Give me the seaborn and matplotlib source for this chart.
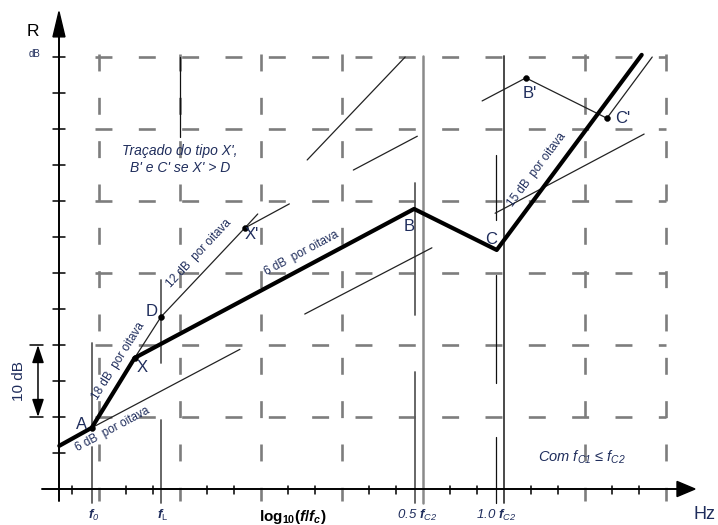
import numpy as np
import pandas as pd
import matplotlib
matplotlib.use("Agg")
import matplotlib.pyplot as plt
import seaborn as sns
from matplotlib.patches import Polygon

# ---------------------------------------------------------------------------
# Data: x = frequency in octaves (one grid column per octave), y = R in dB
# ---------------------------------------------------------------------------
octave_lines = [0, 1, 2, 3, 4, 5, 6, 7]
db_lines = [10, 20, 30, 40, 50, 60]
db_ticks = [5, 10, 15, 20, 25, 30, 35, 40, 45, 50, 55, 60]
third_octave_ticks = [-0.333, 0.333, 0.667, 1.333, 1.667, 2.333, 2.667, 3.333,
                      3.667, 4.333, 4.667, 5.333, 5.667, 6.333, 6.667]

# characteristic frequencies
f0 = -0.09
fL = 0.765
half_fc2 = 3.90
one_fc2 = 4.90

# design curve: axis start, A, X, B, C, end
curve_x = [-0.49, -0.09, 0.44, 3.89, 4.91, 6.70]
curve_y = [6.0, 8.5, 18.2, 38.9, 33.2, 60.3]

# marked construction points
point_x = [-0.09, 0.44, 0.765, 1.80, 5.27, 6.27]
point_y = [8.5, 18.2, 23.9, 36.25, 57.1, 51.5]

# point letters
label_names = ["A", "X", "D", "X'", "B", "C", "B'", "C'"]
label_x = [-0.22, 0.53, 0.654, 1.89, 3.83, 4.84, 5.32, 6.47]
label_y = [9.0, 16.9, 24.6, 35.3, 36.5, 34.7, 55.0, 51.4]

# thin construction lines (start / end)
guide_x0 = [-0.09, 0.44, 0.765, 1.80, 1.80, 2.57, 3.14, 2.54, 4.73, 5.27, 6.27, 4.89]
guide_y0 = [8.5, 18.2, 23.9, 36.25, 36.25, 45.7, 44.3, 24.3, 53.9, 57.1, 51.5, 38.3]
guide_x1 = [1.74, 0.765, 1.80, 1.96, 2.35, 3.78, 3.93, 4.11, 5.27, 6.27, 6.83, 6.73]
guide_y1 = [19.4, 23.9, 36.25, 38.2, 39.6, 60.0, 49.0, 33.5, 57.1, 51.5, 60.0, 49.3]

# short marker lines at the characteristic frequencies
mark_x = [f0, f0, fL, fL, half_fc2, half_fc2, one_fc2, one_fc2, one_fc2, 1.0]
mark_y0 = [8.2, -2.0, 17.5, -2.0, 24.2, -2.0, 37.4, 14.7, -2.0, 48.9]
mark_y1 = [20.3, 5.8, 29.0, 9.6, 42.5, 16.25, 46.4, 29.7, 7.2, 60.0]

# slope annotations
slope_text = ["6 dB  por oitava", "18 dB  por oitava", "12 dB  por oitava",
              "6 dB  por oitava", "15 dB  por oitava"]
slope_db = [6, 18, 12, 6, 15]
slope_x = [0.17, 0.235, 1.24, 2.50, 5.41]
slope_y = [8.3, 17.8, 32.7, 32.7, 44.3]

# frequency axis labels
freq_label_x = [f0 + 0.02, fL + 0.02, half_fc2 + 0.03, one_fc2 + 0.01]
freq_labels = [r"$\mathit{f}_{\mathsf{0}}$", r"$\mathit{f}_{\mathrm{L}}$",
               r"$\mathsf{0.5}\ \mathit{f}_{\mathsf{C2}}$",
               r"$\mathsf{1.0}\ \mathit{f}_{\mathsf{C2}}$"]

# ---------------------------------------------------------------------------
sns.set_theme(style="white")
plt.rcParams["font.family"] = ["Liberation Sans", "DejaVu Sans"]
plt.rcParams["mathtext.fontset"] = "custom"
plt.rcParams["mathtext.rm"] = "Liberation Sans"
plt.rcParams["mathtext.it"] = "Liberation Sans:bold:italic"
plt.rcParams["mathtext.bf"] = "Liberation Sans:bold"
plt.rcParams["mathtext.sf"] = "Liberation Sans:italic"
plt.rcParams["lines.scale_dashes"] = False

NAVY = "#1f2d5c"
GRID = "#7d7d7d"

fig = plt.figure(figsize=(7.18, 5.25), dpi=100)
ax = fig.add_axes([0, 0, 1, 1])
ax.set_xlim(-1.222, 7.642)
ax.set_ylim(-5.0, 67.92)
ax.axis("off")

dash = (0, (12.2, 19.0))

# dashed grid
for y in db_lines:
    ax.plot([-0.05, 7.0], [y, y], color=GRID, lw=1.9, ls=dash, zorder=1)
for x in octave_lines:
    if x in (4, 5):
        continue
    ax.plot([x, x], [60.4, -1.6], color=GRID, lw=1.9, ls=dash, zorder=1)

# solid verticals at 0.5 fc2 and 1.0 fc2
ax.plot([4, 4], [60.2, -2.0], color="#8a8a8a", lw=1.8, zorder=2)
ax.plot([5, 5], [60.2, -2.0], color="#3a3a3a", lw=1.3, zorder=2)

# short marker lines
for x, a, b in zip(mark_x, mark_y0, mark_y1):
    if x in (f0, fL, half_fc2):
        ax.plot([x, x], [a, b], color="#5a5a5a", lw=1.3, zorder=2)
    else:
        ax.plot([x, x], [a, b], color="#111111", lw=0.9, zorder=2)

# axes
ax.plot([-0.494, -0.494], [-1.6, 63.0], color="black", lw=1.4, zorder=3)
ax.plot([-0.704, 7.15], [0, 0], color="black", lw=1.4, zorder=3)
ax.add_patch(Polygon([[-0.494, 66.3], [-0.568, 62.8], [-0.420, 62.8]],
                     closed=True, color="black", zorder=4))
ax.add_patch(Polygon([[7.358, 0], [7.136, 1.05], [7.136, -1.05]],
                     closed=True, color="black", zorder=4))
for y in db_ticks:
    ax.plot([-0.568, -0.420], [y, y], color="black", lw=1.1, zorder=3)
for x in third_octave_ticks:
    ax.plot([x, x], [0.4, -0.7], color="black", lw=1.1, zorder=3)

# 10 dB scale bracket
ax.plot([-0.852, -0.691], [20, 20], color="black", lw=1.1)
ax.plot([-0.852, -0.691], [10, 10], color="black", lw=1.1)
ax.annotate("", xy=(-0.753, 10), xytext=(-0.753, 20),
            arrowprops=dict(arrowstyle="<|-|>,head_length=0.9,head_width=0.3",
                            color="black", lw=1.1, shrinkA=0, shrinkB=0))
ax.text(-0.99, 15, "10 dB", rotation=90, ha="center", va="center",
        fontsize=11, color=NAVY)

# thin construction lines
guides = pd.DataFrame({
    "seg": list(range(len(guide_x0))) * 2,
    "x": guide_x0 + guide_x1,
    "y": guide_y0 + guide_y1,
})
sns.lineplot(data=guides, x="x", y="y", units="seg", estimator=None,
             color="#222222", lw=0.9, sort=False, ax=ax, zorder=4)

# design curve
curve = pd.DataFrame({"x": curve_x, "y": curve_y})
sns.lineplot(data=curve, x="x", y="y", color="black", lw=3.0, sort=False,
             ax=ax, zorder=6)

# construction points
pts = pd.DataFrame({"x": point_x, "y": point_y})
sns.scatterplot(data=pts, x="x", y="y", color="black", s=18, edgecolor="black",
                ax=ax, zorder=7)
ax.set_xlabel("")
ax.set_ylabel("")

for name, x, y in zip(label_names, label_x, label_y):
    ax.text(x, y, name, ha="center", va="center", fontsize=12, color=NAVY,
            zorder=8)

for t, s, x, y in zip(slope_text, slope_db, slope_x, slope_y):
    ax.text(x, y, t, rotation=np.degrees(np.arctan(s)), transform_rotates_text=True,
            rotation_mode="anchor", ha="center", va="center", fontsize=8.5,
            color=NAVY, zorder=8)

# annotations
ax.text(1.0, 46.9, "Traçado do tipo X',", ha="center", va="center",
        fontsize=10, style="italic", color=NAVY)
ax.text(1.0, 44.6, "B' e C' se X' > D", ha="center", va="center",
        fontsize=10, style="italic", color=NAVY)
ax.text(5.96, 4.4, r"Com $\mathsf{f}_{\mathsf{C1}}$ ≤ $\mathsf{f}_{\mathsf{C2}}$",
        ha="center", va="center", fontsize=10.5, style="italic", color=NAVY)

# axis titles
ax.text(-0.815, 63.5, "R", ha="center", va="center", fontsize=12.5, color="black")
ax.text(-0.79, 60.4, "dB", ha="center", va="center", fontsize=7, color=NAVY)
ax.text(7.48, -3.6, "Hz", ha="center", va="center", fontsize=13, color=NAVY)
ax.text(2.395, -3.9,
        r"$\mathbf{log}_{\mathbf{10}}\mathbf{(}\mathit{f}\mathbf{/}\mathit{f}_{\mathit{c}}\mathbf{)}$",
        ha="center", va="center", fontsize=11, color="black")
for x, t in zip(freq_label_x, freq_labels):
    ax.text(x, -3.7, t, ha="center", va="center", fontsize=9.5, color=NAVY)

fig.savefig("out.png", dpi=100, facecolor="white")
